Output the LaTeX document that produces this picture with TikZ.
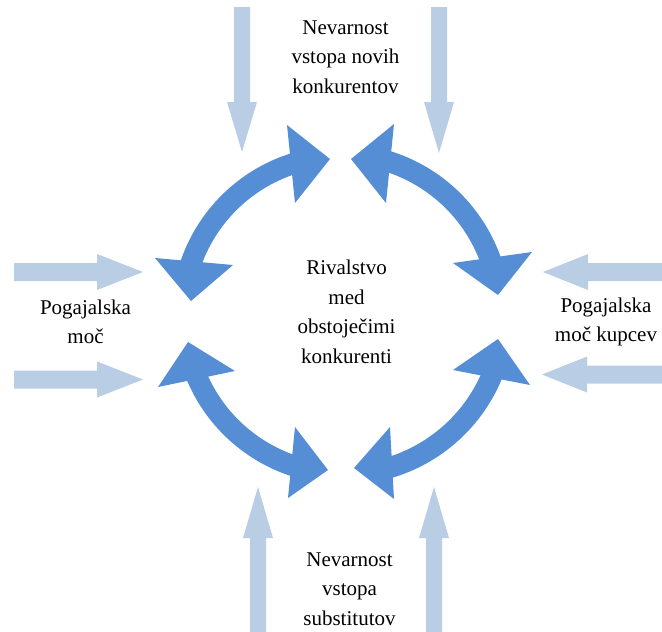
\documentclass[tikz,border=0pt]{standalone}
\usepackage{fontspec}
\setmainfont{Liberation Serif}
\definecolor{ringblue}{RGB}{85,142,213}
\definecolor{forceblue}{RGB}{185,205,229}
\begin{document}
\begin{tikzpicture}[x=1pt,y=1pt,
  ringshaft/.style={draw=ringblue, line width=21pt},
  ringhead/.style={fill=ringblue},
  forcearrow/.style={fill=forceblue},
  txt/.style={align=center, font=\fontsize{21}{29.5}\selectfont, inner sep=0pt}]
\useasboundingbox (0,0) rectangle (662,-632);

% outer forces: light block arrows pointing inwards
\fill[forcearrow] (234,-7) -- (250,-7) -- (250,-102) -- (257,-102) -- (242,-152) -- (227,-102) -- (234,-102) -- cycle;
\fill[forcearrow] (431,-7) -- (447,-7) -- (447,-102) -- (454,-102) -- (439,-153) -- (424,-102) -- (431,-102) -- cycle;
\fill[forcearrow] (250,-632) -- (266,-632) -- (266,-538) -- (273,-538) -- (258,-487) -- (243,-538) -- (250,-538) -- cycle;
\fill[forcearrow] (426,-632) -- (442,-632) -- (442,-538) -- (449,-538) -- (434,-487) -- (419,-538) -- (426,-538) -- cycle;
\fill[forcearrow] (14,-263) -- (97,-263) -- (97,-254) -- (143,-272) -- (97,-290) -- (97,-281) -- (14,-281) -- cycle;
\fill[forcearrow] (14,-370.5) -- (97,-370.5) -- (97,-361.5) -- (143,-379.5) -- (97,-397.5) -- (97,-388.5) -- (14,-388.5) -- cycle;
\fill[forcearrow] (662,-263) -- (588,-263) -- (588,-254) -- (543,-272) -- (588,-290) -- (588,-281) -- (662,-281) -- cycle;
\fill[forcearrow] (662,-365.5) -- (587,-365.5) -- (587,-356.5) -- (542,-374.5) -- (587,-392.5) -- (587,-383.5) -- (662,-383.5) -- cycle;

% ring of four double-headed curved arrows: circular shafts round their own centres
\coordinate (tl-c) at (342,-316);
\coordinate (tr-c) at (340,-314);
\coordinate (bl-c) at (344,-314);
\coordinate (br-c) at (343,-313);

\draw[ringshaft] (tl-c) ++(106.5:160) arc[start angle=106.5, end angle=162, radius=160];
\draw[ringshaft] (tr-c) ++(73:160) arc[start angle=73, end angle=18.5, radius=160];
\draw[ringshaft] (bl-c) ++(202:160) arc[start angle=202, end angle=253.5, radius=160];
\draw[ringshaft] (br-c) ++(-21.5:161.5) arc[start angle=-21.5, end angle=-74, radius=161.5];

\fill[ringhead] (330,-159) -- (287,-125) -- (295,-203) -- cycle;
\fill[ringhead] (191,-301) -- (155,-258) -- (233,-265) -- cycle;
\fill[ringhead] (351,-159) -- (394,-124) -- (386,-203) -- cycle;
\fill[ringhead] (498,-295) -- (453,-263) -- (532,-252) -- cycle;
\fill[ringhead] (188,-342) -- (158,-387) -- (235,-371) -- cycle;
\fill[ringhead] (328,-470) -- (295,-427) -- (288,-498) -- cycle;
\fill[ringhead] (498,-339) -- (453,-370) -- (530,-385) -- cycle;
\fill[ringhead] (354,-468) -- (390,-427) -- (394,-499) -- cycle;

% labels
\node[txt] (entrants) at (345.5,-57) {Nevarnost\\vstopa novih\\konkurentov};
\node[txt] (rivalry) at (346.5,-312) {Rivalstvo\\med\\obstoječimi\\konkurenti};
\node[txt] (suppliers) at (85.5,-322) {Pogajalska\\moč};
\node[txt] (buyers) at (606,-322) {Pogajalska\\moč kupcev};
\node[txt] (substitutes) at (349.5,-589) {Nevarnost\\vstopa\\substitutov};
\end{tikzpicture}
\end{document}
